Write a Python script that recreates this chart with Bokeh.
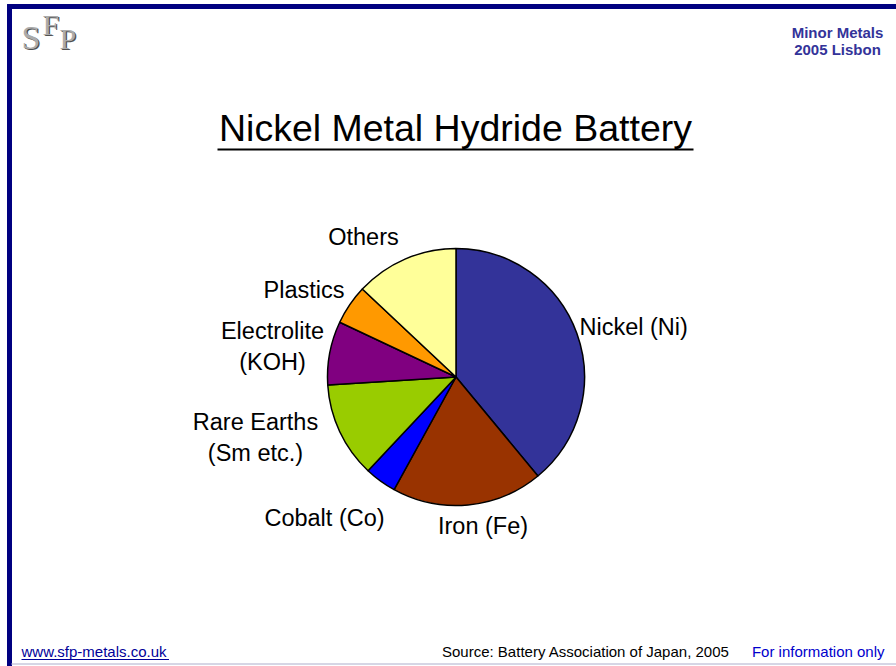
import math

from bokeh.core.properties import value
from bokeh.embed import file_html
from bokeh.models import ColumnDataSource, Range1d
from bokeh.plotting import figure
from bokeh.resources import INLINE

# --- data -----------------------------------------------------------------
components = ["Nickel (Ni)", "Iron (Fe)", "Cobalt (Co)", "Rare Earths\n(Sm etc.)",
              "Electrolite\n(KOH)", "Plastics", "Others"]
shares = [39, 19, 4, 12, 8, 5, 13]
slice_colors = ["#333399", "#993300", "#0000FF", "#99CC00", "#800080", "#FF9900", "#FFFF99"]

title_text = "Nickel Metal Hydride Battery"
event_lines = ["Minor Metals", "2005 Lisbon"]
source_note = "Source: Battery Association of Japan, 2005"
site_url = "www.sfp-metals.co.uk"
disclaimer = "For information only"

# --- page geometry (slide is laid out in pixels, top-left origin) -------
W, H = 896, 666
FONT = value("Liberation Sans")
SERIF = value("Liberation Serif")


def Y(y):
    """convert a top-down pixel row into the plot's bottom-up y"""
    return H - y


p = figure(width=W, height=H, x_range=Range1d(0, W), y_range=Range1d(0, H),
           output_backend="svg", toolbar_location=None, min_border=0,
           background_fill_color="white", border_fill_color="white")
p.axis.visible = False
p.grid.visible = False
p.outline_line_color = None

# slide frame: navy bars on top and left, faint rule at the bottom
p.quad(left=[7], right=[W], top=[Y(4)], bottom=[Y(8)], color="#000080")
p.quad(left=[7], right=[11], top=[Y(4)], bottom=[0], color="#000080")
p.segment(x0=[11], y0=[Y(663.5)], x1=[W], y1=[Y(663.5)], line_color="#C8C8DC", line_width=1.5)

# SFP logo in metallic grey serif lettering (y = vertical centre of the letter)
logo = ColumnDataSource(dict(
    x=[21, 42, 59], y=[Y(36.5), Y(23.5), Y(37.5)], t=["S", "F", "P"],
    size=["34px", "30px", "30px"]))
p.text(x="x", y="y", text="t", source=logo, text_font=SERIF, text_font_size="size",
       text_color="#505050", x_offset=1.2, y_offset=1.2, text_baseline="middle")
p.text(x="x", y="y", text="t", source=logo, text_font=SERIF, text_font_size="size",
       text_color="#ABABAB", text_baseline="middle")

# event tag, top right
for i, line in enumerate(event_lines):
    p.text(x=[837], y=[Y(31.5 + 17.5 * i)], text=[line], text_font=FONT,
           text_font_size="15px", text_font_style="bold", text_color="#333399",
           text_align="center", text_baseline="middle")

# title with underline
p.text(x=[455], y=[Y(127.5)], text=[title_text], text_font=FONT, text_font_size="37.5px",
       text_color="black", text_align="center", text_baseline="middle")
p.segment(x0=[217], y0=[Y(149)], x1=[693], y1=[Y(149)], line_color="black", line_width=2)

# pie, starting at twelve o'clock and running clockwise
cx, cy, r = 455.5, Y(376.5), 128.5
total = float(sum(shares))
starts, ends = [], []
acc = 0.0
for s in shares:
    a0 = math.pi / 2 - 2 * math.pi * acc / total
    acc += s
    a1 = math.pi / 2 - 2 * math.pi * acc / total
    starts.append(a1)
    ends.append(a0)
pie = ColumnDataSource(dict(start=starts, end=ends, color=slice_colors, name=components,
                            share=shares))
p.wedge(x=cx, y=cy, radius=r, start_angle="start", end_angle="end", direction="anticlock",
        fill_color="color", line_color="black", line_width=1.5, source=pie)

# slice labels: (anchor x, centre row of first line, alignment)
label_spots = [(579, 326, "left"), (482.5, 525, "center"), (324, 517.5, "center"),
               (255, 421.5, "center"), (272, 330.5, "center"), (303.5, 289.5, "center"),
               (363, 236.5, "center")]
for name, (lx, ly, align) in zip(components, label_spots):
    for j, line in enumerate(name.split("\n")):
        p.text(x=[lx], y=[Y(ly + 31.2 * j)], text=[line], text_font=FONT,
               text_font_size="23.5px", text_color="black", text_align=align,
               text_baseline="middle")

# footer
p.text(x=[21], y=[Y(650.5)], text=[site_url], text_font=FONT, text_font_size="15px",
       text_color="#000099", text_baseline="middle")
p.segment(x0=[21], y0=[Y(659)], x1=[168.5], y1=[Y(659)], line_color="#000099", line_width=1)
p.text(x=[441.5], y=[Y(650.5)], text=[source_note], text_font=FONT, text_font_size="15px",
       text_color="black", text_baseline="middle")
p.text(x=[884], y=[Y(650.5)], text=[disclaimer], text_font=FONT, text_font_size="15px",
       text_color="#0000CC", text_align="right", text_baseline="middle")

open("out.html", "w").write(file_html(p, INLINE))
